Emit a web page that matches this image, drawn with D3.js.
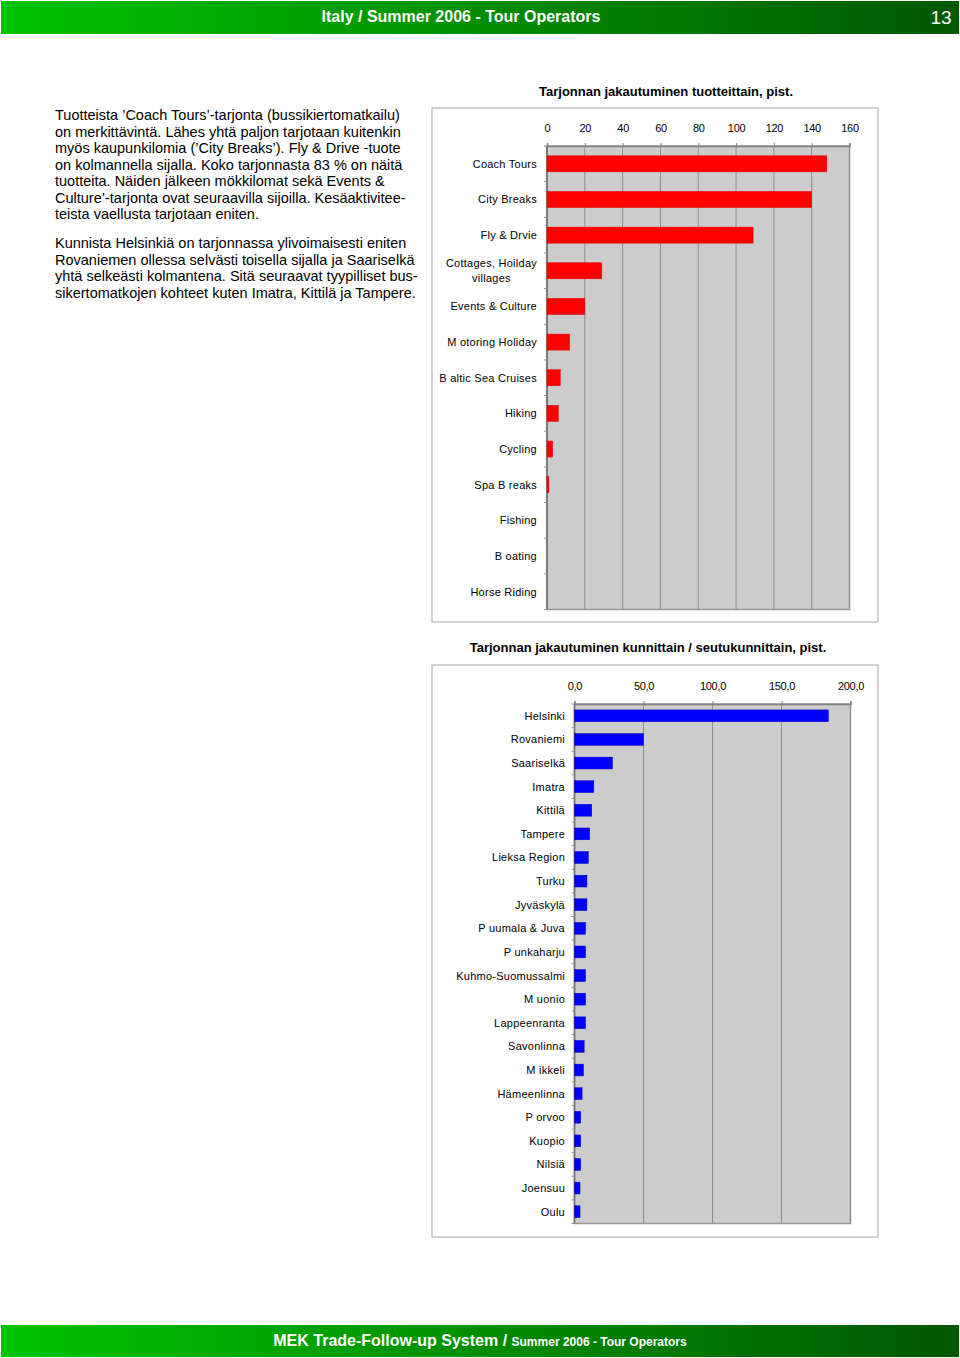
<!DOCTYPE html>
<html>
<head>
<meta charset="utf-8">
<script src="https://cdn.jsdelivr.net/npm/d3@7"></script>
<style>
  body { margin: 0; background: #fff; }
  svg { display: block; font-family: Arial, "Liberation Sans", sans-serif; }
</style>
</head>
<body>
<div id="page"></div>
<script>
// Data
var productCats = ["Coach Tours", "City Breaks", "Fly & Drvie", "Cottages, Hoilday\nvillages", "Events & Culture",
  "M otoring Holiday", "B altic Sea Cruises", "Hiking", "Cycling", "Spa B reaks", "Fishing", "B oating", "Horse Riding"];
var productVals = [148, 140, 109, 29, 20, 12, 7, 6, 3, 1, 0, 0, 0];
var productTicks = [0, 20, 40, 60, 80, 100, 120, 140, 160];

var townCats = ["Helsinki", "Rovaniemi", "Saariselkä", "Imatra", "Kittilä", "Tampere", "Lieksa Region", "Turku",
  "Jyväskylä", "P uumala & Juva", "P unkaharju", "Kuhmo-Suomussalmi", "M uonio", "Lappeenranta", "Savonlinna",
  "M ikkeli", "Hämeenlinna", "P orvoo", "Kuopio", "Nilsiä", "Joensuu", "Oulu"];
var townVals = [184, 50, 27.5, 14, 12.5, 11, 10, 9, 9, 8, 8, 8, 8, 8, 7, 6.5, 5.5, 4.5, 4.5, 4.5, 4, 4];
var townTicks = [0, 50, 100, 150, 200];

var paragraphs = [
  ["Tuotteista ’Coach Tours’-tarjonta (bussikiertomatkailu)",
   "on merkittävintä. Lähes yhtä paljon tarjotaan kuitenkin",
   "myös kaupunkilomia (’City Breaks’).  Fly & Drive -tuote",
   "on kolmannella sijalla. Koko tarjonnasta 83 % on näitä",
   "tuotteita. Näiden jälkeen mökkilomat sekä Events &",
   "Culture’-tarjonta ovat seuraavilla sijoilla. Kesäaktivitee-",
   "teista vaellusta tarjotaan eniten."],
  ["Kunnista Helsinkiä on tarjonnassa ylivoimaisesti eniten",
   "Rovaniemen ollessa selvästi toisella sijalla ja Saariselkä",
   "yhtä selkeästi kolmantena. Sitä seuraavat tyypilliset bus-",
   "sikertomatkojen kohteet kuten Imatra, Kittilä ja Tampere."]
];

var W = 960, H = 1358;
var svg = d3.select("#page").append("svg")
  .attr("width", W)
  .attr("height", H);

// Gradient for header / footer
var defs = svg.append("defs");
var grad = defs.append("linearGradient").attr("id", "bar").attr("x1", "0").attr("x2", "1");
grad.append("stop").attr("offset", "0%").attr("stop-color", "#00c400");
grad.append("stop").attr("offset", "100%").attr("stop-color", "#005800");

// Header
svg.append("rect").attr("x", 1).attr("y", 1).attr("width", W - 2).attr("height", 33).attr("fill", "url(#bar)");
svg.append("text")
  .attr("x", 461).attr("y", 22)
  .attr("text-anchor", "middle")
  .attr("fill", "#fff")
  .attr("font-weight", "bold")
  .attr("font-size", 16)
  .attr("font-family", "'Liberation Sans Narrow', 'Arial Narrow', Arial, sans-serif")
  .text("Italy / Summer 2006 - Tour Operators");
svg.append("text")
  .attr("x", 941).attr("y", 24)
  .attr("text-anchor", "middle")
  .attr("fill", "#fff")
  .attr("font-size", 19)
  .attr("font-family", "'Liberation Sans Narrow', 'Arial Narrow', Arial, sans-serif")
  .text("13");

// Footer
svg.append("rect").attr("x", 1).attr("y", 1325).attr("width", W - 2).attr("height", 32).attr("fill", "url(#bar)");
var ft = svg.append("text")
  .attr("x", 480).attr("y", 1346)
  .attr("text-anchor", "middle")
  .attr("fill", "#fff")
  .attr("font-weight", "bold")
  .attr("font-family", "'Liberation Sans Narrow', 'Arial Narrow', Arial, sans-serif");
ft.append("tspan").attr("font-size", 16).text("MEK Trade-Follow-up System / ");
ft.append("tspan").attr("font-size", 12).text("Summer 2006 - Tour Operators");

// Paragraph text
var lineH = 16.5;
var py = [120, 248];
paragraphs.forEach(function (lines, pi) {
  svg.append("g").selectAll("text")
    .data(lines)
    .enter().append("text")
    .attr("x", 55)
    .attr("y", function (d, i) { return py[pi] + i * lineH; })
    .attr("font-size", 14.5)
    .attr("fill", "#000")
    .text(function (d) { return d; });
});

function barChart(opt) {
  var g = svg.append("g");

  // frame
  g.append("rect")
    .attr("x", opt.frame[0]).attr("y", opt.frame[1])
    .attr("width", opt.frame[2]).attr("height", opt.frame[3])
    .attr("fill", "#fff").attr("stroke", "#b4b4b4").attr("stroke-width", 1.2);

  // title
  g.append("text")
    .attr("x", opt.titleX).attr("y", opt.titleY)
    .attr("text-anchor", "middle")
    .attr("font-weight", "bold")
    .attr("font-size", 13)
    .text(opt.title);

  var x = d3.scaleLinear().domain(opt.domain).range([opt.left, opt.right]);
  var y = d3.scaleBand().domain(opt.cats).range([opt.top, opt.bottom]).paddingInner(opt.pad).paddingOuter(opt.pad / 2);

  // plot area
  g.append("rect")
    .attr("x", opt.left).attr("y", opt.top)
    .attr("width", opt.right - opt.left).attr("height", opt.bottom - opt.top)
    .attr("fill", "#cccccc").attr("stroke", "#999").attr("stroke-width", 1.5);

  // grid lines
  g.append("g").selectAll("line")
    .data(opt.ticks)
    .enter().append("line")
    .attr("x1", x).attr("x2", x)
    .attr("y1", opt.top).attr("y2", opt.bottom)
    .attr("stroke", "#8c8c8c").attr("stroke-width", 1);

  // top axis
  var xAxis = d3.axisTop(x).tickValues(opt.ticks).tickSize(3).tickFormat(opt.fmt);
  var ax = g.append("g").attr("transform", "translate(0," + opt.top + ")").call(xAxis);
  ax.select(".domain").attr("stroke", "#808080").attr("stroke-width", 1.5);
  ax.selectAll(".tick line").attr("stroke", "#808080");
  ax.selectAll(".tick text")
    .attr("y", opt.tickLabelY - opt.top)
    .attr("dy", null)
    .attr("font-size", 11)
    .attr("font-family", "Arial, 'Liberation Sans', sans-serif")
    .attr("letter-spacing", -0.3)
    .attr("fill", "#000");

  // left axis: ticks at band boundaries
  var step = y.step();
  var edges = d3.range(opt.cats.length + 1).map(function (i) { return opt.top + i * step; });
  g.append("line")
    .attr("x1", opt.left).attr("x2", opt.left)
    .attr("y1", opt.top).attr("y2", opt.bottom)
    .attr("stroke", "#707070").attr("stroke-width", 1.5);
  g.append("g").selectAll("line")
    .data(edges)
    .enter().append("line")
    .attr("x1", opt.left - 3).attr("x2", opt.left)
    .attr("y1", function (d) { return d; }).attr("y2", function (d) { return d; })
    .attr("stroke", "#909090");

  // bars
  g.append("g").selectAll("rect")
    .data(opt.vals)
    .enter().append("rect")
    .attr("x", x(0))
    .attr("y", function (d, i) { return y(opt.cats[i]); })
    .attr("width", function (d) { return x(d) - x(0); })
    .attr("height", y.bandwidth())
    .attr("fill", opt.color)
    .attr("stroke", opt.stroke)
    .attr("stroke-width", 0.5);

  // category labels
  opt.cats.forEach(function (c) {
    var lines = c.split("\n");
    var cy = y(c) + y.bandwidth() / 2;
    var t = g.append("text")
      .attr("font-size", 11)
      .attr("letter-spacing", 0.25)
      .attr("fill", "#000");
    if (lines.length === 1) {
      t.attr("x", opt.labelX).attr("y", cy + 4).attr("text-anchor", "end").text(c);
    } else {
      t.attr("text-anchor", "middle");
      var first = t.append("tspan").text(lines[0]);
      var w = first.node().getComputedTextLength();
      var mx = opt.labelX - w / 2;
      first.attr("x", mx).attr("y", cy - 3.5);
      t.append("tspan").attr("x", mx).attr("y", cy + 11).text(lines[1]);
    }
  });
}

barChart({
  frame: [432, 108, 446, 514],
  title: "Tarjonnan jakautuminen tuotteittain, pist.",
  titleX: 666, titleY: 96,
  cats: productCats, vals: productVals, ticks: productTicks,
  domain: [0, 160],
  left: 547, right: 849.5, top: 146, bottom: 609.5,
  pad: 0.55, tickLabelY: 132,
  labelX: 537,
  color: "#ff0000", stroke: "#e00000",
  fmt: function (d) { return d; }
});

barChart({
  frame: [432, 665, 446, 572],
  title: "Tarjonnan jakautuminen kunnittain / seutukunnittain, pist.",
  titleX: 648, titleY: 652,
  cats: townCats, vals: townVals, ticks: townTicks,
  domain: [0, 200],
  left: 574.5, right: 850.5, top: 704, bottom: 1223.5,
  pad: 0.5, tickLabelY: 690,
  labelX: 565,
  color: "#0000ff", stroke: "#0000c0",
  fmt: function (d) { return d3.format(".1f")(d).replace(".", ","); }
});
</script>
</body>
</html>
